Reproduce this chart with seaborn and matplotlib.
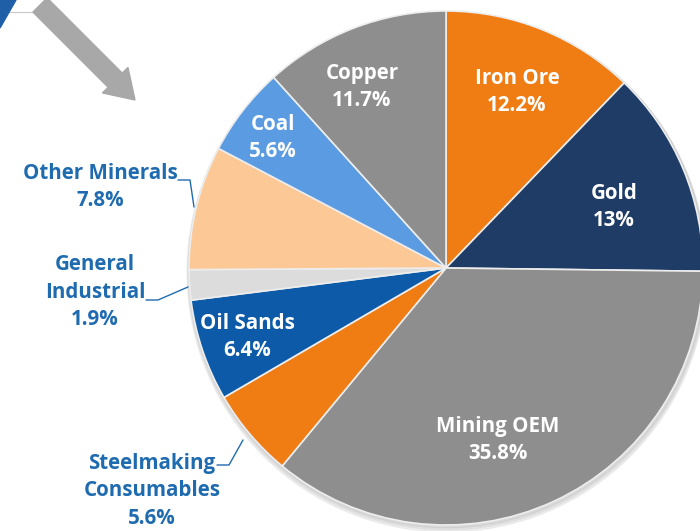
import matplotlib
matplotlib.use("Agg")
import matplotlib.pyplot as plt
import seaborn as sns
import numpy as np
from matplotlib.patches import FancyArrow, Polygon

sns.set_theme(style="white")
plt.rcParams['font.family'] = ['Open Sans', 'DejaVu Sans']

categories = ["Iron Ore", "Gold", "Mining OEM", "Steelmaking\nConsumables", "Oil Sands",
              "General\nIndustrial", "Other Minerals", "Coal", "Copper"]
values = [12.2, 13.0, 35.8, 5.6, 6.4, 1.9, 7.8, 5.6, 11.7]
value_labels = ["12.2%", "13%", "35.8%", "5.6%", "6.4%", "1.9%", "7.8%", "5.6%", "11.7%"]
colors = ["#F07C14", "#1F3C66", "#8E8E8E", "#F07C14", "#0C5AA8",
          "#DCDCDC", "#FCC896", "#5A9BE2", "#8E8E8E"]

W, H = 700, 531
fig = plt.figure(figsize=(7.0, 5.31), dpi=100)
ax = fig.add_axes([0, 0, 1, 1])

cx, cy, R = 446, H - 268, 257

# soft shadow
for k in range(3):
    sh = plt.Circle((cx + 1, cy - 2 - k), R + 1 + k, color="black", alpha=0.05, zorder=1)
    ax.add_patch(sh)

wedges, _ = ax.pie(values, colors=colors, startangle=90, counterclock=False,
                   center=(cx, cy), radius=R, frame=True,
                   wedgeprops=dict(edgecolor="#EDEDED", linewidth=1.2, zorder=2))
ax.set_xlim(0, W)
ax.set_ylim(0, H)
ax.set_aspect("equal")
ax.axis("off")

FS = 14.8
# inside label centres (pixel column, pixel row)
inside = {0: (517, 92), 1: (614, 207), 2: (498, 440), 4: (247, 337), 7: (273, 138), 8: (362, 87)}
for i, (tx, ty) in inside.items():
    ax.text(tx, H - ty, categories[i] + "\n" + value_labels[i], color="white",
            fontsize=FS, fontweight="bold", ha="center", va="center",
            linespacing=1.38, zorder=5)

lab_col = "#1F6BB0"
outside = {6: (100, 187), 5: (95, 292), 3: (152, 491)}
leaders = {6: [(178, 180), (190, 180), (194, 207)],
           5: [(146, 300), (158, 300), (188, 287)],
           3: [(217, 465), (229, 465), (243, 440)]}
for i, (tx, ty) in outside.items():
    ax.text(tx, H - ty, categories[i] + "\n" + value_labels[i], color=lab_col,
            fontsize=FS, fontweight="bold", ha="center", va="center",
            linespacing=1.4, zorder=5)
    pts = leaders[i]
    ax.plot([p[0] for p in pts], [H - p[1] for p in pts], color=lab_col, lw=1, zorder=4)

# decorative arrow and corner shape
arr = FancyArrow(40, H - 5, 95, -95, width=20, head_width=36, head_length=28,
                 length_includes_head=True, color="#A8A8A8", zorder=3)
ax.add_patch(arr)
ax.add_patch(Polygon([(0, H), (16, H), (8, H - 14), (0, H - 28)], closed=True,
                     color="#1F5FA8", zorder=3))
ax.plot([0, 62], [H - 12, H - 12], color="#C8C8C8", lw=0.8, zorder=2)

fig.savefig("out.png", dpi=100)
